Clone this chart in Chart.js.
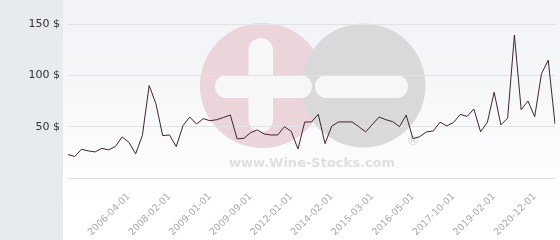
<!DOCTYPE html>
<html>
<head>
<meta charset="utf-8">
<script src="https://cdn.jsdelivr.net/npm/chart.js@4"></script>
<style>
  html, body { margin: 0; padding: 0; background: #fff; }
  #wrap { width: 560px; height: 240px; }
</style>
</head>
<body>
<div id="wrap"><canvas id="priceChart" width="560" height="240"></canvas></div>
<script>
// Dates of each price point (only every 6th one is printed on the axis)
const dates = [
    '2004-01-01', '2004-06-01', '2004-10-01', '2005-01-01', '2005-03-01', '2005-06-01',
    '2005-09-01', '2005-11-01', '2006-01-01', '2006-04-01', '2006-09-01', '2007-01-01',
    '2007-05-01', '2007-08-01', '2007-11-01', '2008-02-01', '2008-04-01', '2008-06-01',
    '2008-08-01', '2008-10-01', '2008-11-01', '2009-01-01', '2009-02-01', '2009-04-01',
    '2009-05-01', '2009-06-01', '2009-08-01', '2009-09-01', '2010-03-01', '2010-09-01',
    '2011-02-01', '2011-06-01', '2011-09-01', '2012-01-01', '2012-05-01', '2012-09-01',
    '2013-01-01', '2013-06-01', '2013-10-01', '2014-02-01', '2014-04-01', '2014-06-01',
    '2014-09-01', '2014-11-01', '2015-01-01', '2015-03-01', '2015-05-01', '2015-08-01',
    '2015-10-01', '2016-01-01', '2016-03-01', '2016-05-01', '2016-08-01', '2016-11-01',
    '2017-02-01', '2017-05-01', '2017-08-01', '2017-10-01', '2017-12-01', '2018-03-01',
    '2018-06-01', '2018-09-01', '2018-11-01', '2019-02-01', '2019-05-01', '2019-09-01',
    '2019-12-01', '2020-04-01', '2020-08-01', '2020-12-01', '2021-03-01', '2021-06-01',
    '2021-09-01'
];

// Price in $
const prices = [
    22.8, 20.9, 28, 26.4, 25.4, 28.9, 27.4, 30.6, 40, 34.8, 23.5, 41.6,
    90.1, 72.3, 41.3, 41.9, 30.6, 51, 59.4, 52.6, 57.8, 55.8, 56.8, 59,
    61.4, 38.1, 38.6, 44.2, 46.8, 42.9, 41.9, 41.9, 50, 45.4, 28.3, 54.6,
    54.6, 62.1, 33.5, 50.5, 54.6, 54.6, 54.6, 50, 44.9, 52.2, 59.4, 56.8,
    54.9, 50, 61.2, 38.3, 40.3, 44.9, 45.8, 54.4, 50.7, 54.1, 61.9, 60,
    67.2, 45, 54.2, 83.5, 51.7, 58.3, 139.3, 66.5, 75, 59.7, 101.5, 114.8,
    52.7
];

const yTicks = [0, 50, 100, 150];
const firstLabel = 9;   // premier libellé affiché
const labelEvery = 6;   // un libellé tous les 6 points

// fond gris à gauche + dégradé + filigrane
const backdrop = {
    id: 'backdrop',
    beforeDraw(chart) {
        const ctx = chart.ctx;
        ctx.save();
        ctx.fillStyle = '#e7ebee';
        ctx.fillRect(0, 0, 63, chart.height);
        const g = ctx.createLinearGradient(0, 0, 0, 210);
        g.addColorStop(0, '#f1f2f6');
        g.addColorStop(1, '#ffffff');
        ctx.fillStyle = g;
        ctx.fillRect(63, 0, chart.width - 63, chart.height);

        // filigrane
        ctx.fillStyle = '#ecd4db';
        ctx.beginPath(); ctx.arc(262.5, 85.5, 62.5, 0, Math.PI * 2); ctx.fill();
        ctx.fillStyle = '#d9d9dc';
        ctx.beginPath(); ctx.arc(363.5, 85.5, 62, 0, Math.PI * 2); ctx.fill();

        ctx.fillStyle = '#f7f7f9';
        const bar = (x, y, w, h) => {
            const r = Math.min(w, h) / 2;
            ctx.beginPath();
            ctx.roundRect(x, y, w, h, r);
            ctx.fill();
        };
        bar(215, 75, 97, 23);
        bar(248.5, 38, 24.5, 94);
        bar(315, 75, 93, 23);

        ctx.fillStyle = '#dfdfe1';
        ctx.font = 'bold 13px "DejaVu Sans", sans-serif';
        ctx.textAlign = 'center';
        ctx.textBaseline = 'alphabetic';
        ctx.fillText('www.Wine-Stocks.com', 312, 167);
        ctx.fillStyle = '#d2d2d4';
        ctx.font = '13px "DejaVu Sans", sans-serif';
        ctx.fillText('®', 413, 145);
        ctx.restore();
    }
};

new Chart(document.getElementById('priceChart'), {
    type: 'line',
    data: {
        labels: dates,
        datasets: [{
            data: prices,
            borderColor: '#3d2433',
            borderWidth: 1,
            pointRadius: 0,
            tension: 0,
            fill: false
        }]
    },
    options: {
        responsive: false,
        animation: false,
        layout: { padding: { top: 24, right: 5, left: 0, bottom: 0 } },
        plugins: { legend: { display: false }, tooltip: { enabled: false } },
        scales: {
            x: {
                offset: false,
                grid: { display: false, drawTicks: false },
                border: { display: false },
                ticks: {
                    autoSkip: false,
                    minRotation: 45,
                    maxRotation: 45,
                    padding: 13,
                    color: '#a8a8a8',
                    font: { family: 'DejaVu Sans', size: 9.5 },
                    callback: (v, i) => (i >= firstLabel && (i - firstLabel) % labelEvery === 0) ? dates[i] : ''
                },
                afterFit: s => {
                    s.height = 62;
                    s.paddingLeft = 0;
                    s.paddingRight = 0;
                }
            },
            y: {
                min: yTicks[0],
                max: yTicks[yTicks.length - 1],
                afterBuildTicks: s => { s.ticks = yTicks.map(v => ({ value: v })); },
                grid: { color: '#e2e2e4', drawTicks: false },
                border: { display: false },
                ticks: {
                    padding: 8,
                    color: '#333',
                    font: { family: 'DejaVu Sans', size: 11 },
                    callback: v => v === 0 ? '' : v + ' $'
                },
                afterFit: s => { s.width = 68; }
            }
        }
    },
    plugins: [backdrop]
});
</script>
</body>
</html>
